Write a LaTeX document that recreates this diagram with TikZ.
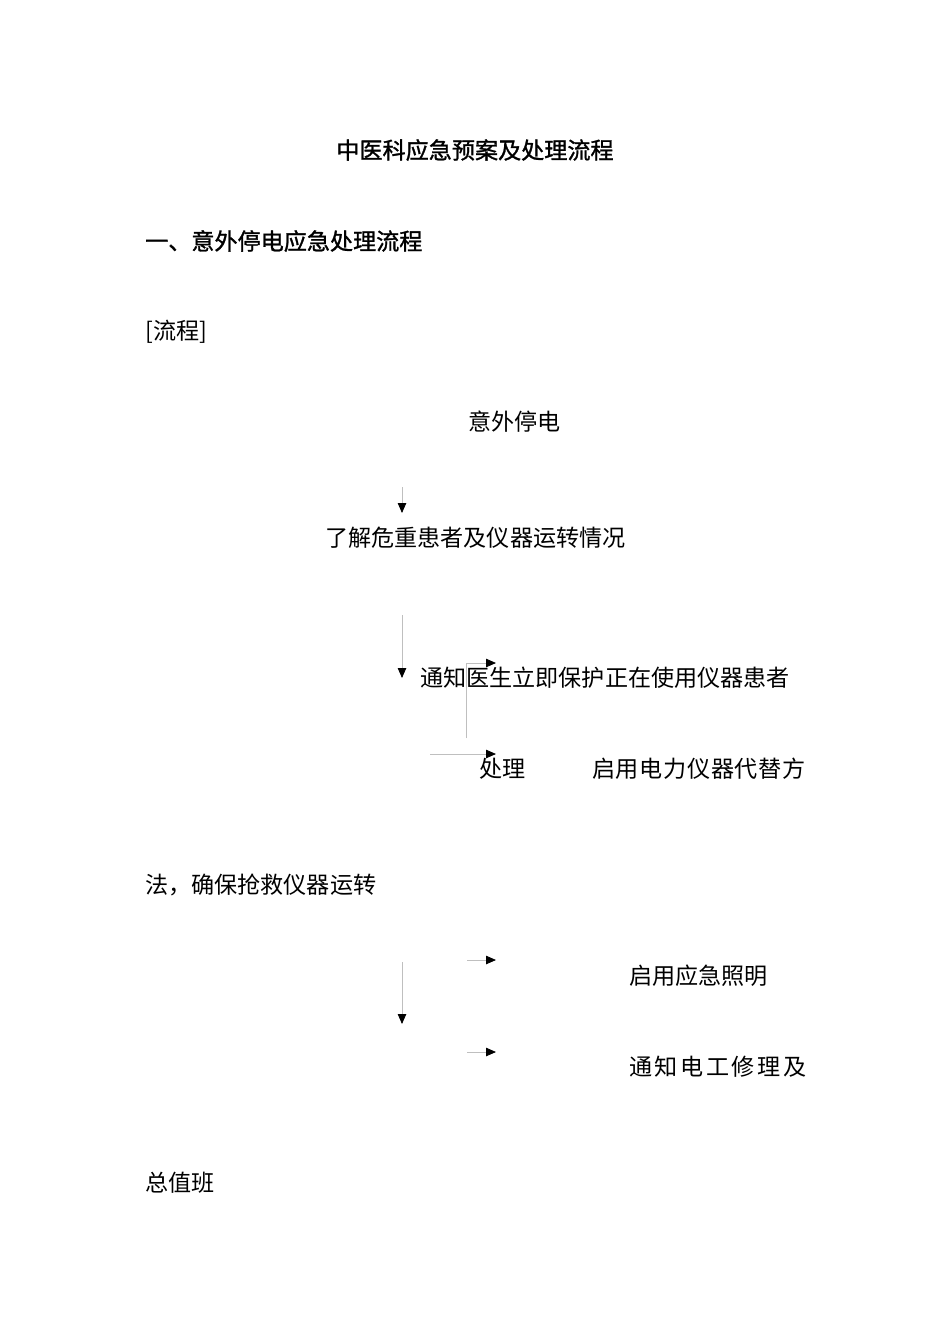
\documentclass[tikz,border=0pt]{standalone}
\usepackage{fontspec}
\setmainfont{Noto Sans CJK SC}
\newfontfamily\cjkbold{Noto Sans CJK SC}[FakeBold=1.2]
\usetikzlibrary{arrows.meta}
\usetikzlibrary{positioning}

\begin{document}
\begin{tikzpicture}[x=1pt,y=-1pt,
  txt/.style={inner sep=0pt,anchor=west,font=\fontsize{23.1}{23}\selectfont},
  ttl/.style={inner sep=0pt,font=\cjkbold\fontsize{23.1}{23}\selectfont},
  flow/.style={draw=black!25,line width=0.8pt,-{Triangle[length=10pt,width=8.5pt,color=black]}}]
  \useasboundingbox[fill=white] (0,0) rectangle (950,1344);
  % headings
  \node[ttl] (title) at (475,150) {中医科应急预案及处理流程};
  \node[ttl,anchor=west] (head) at (145,241) {一、意外停电应急处理流程};
  \node[txt] (tag) at (145,332) {[流程]};
  % flow texts
  \node[txt] (cut) at (468,422) {意外停电};
  \node[txt] (check) at (325,538) {了解危重患者及仪器运转情况};
  \node[txt] (doctor) at (420,678) {通知医生立即保护正在使用仪器患者};
  \node[txt] (deal) at (479,769) {处理};
  \node[txt] (spare) at (592,769) {\addfontfeature{LetterSpace=3}启用电力仪器代替方};
  \node[txt] (spare2) at (145,885) {法，确保抢救仪器运转};
  \node[txt] (light) at (629,976) {启用应急照明};
  \node[txt] (elec) at (629,1067) {\addfontfeature{LetterSpace=11}通知电工修理及};
  \node[txt] (duty) at (145,1183) {总值班};
  % arrow ends
  \coordinate (a1s) at (402,487); \coordinate (a1e) at (402,513);
  \coordinate (a2s) at (402,615); \coordinate (a2e) at (402,678);
  \coordinate (b1) at (466,738); \coordinate (b2) at (466,663);
  \coordinate (b3) at (496,663);
  \coordinate (c1) at (430,754); \coordinate (c2) at (496,754);
  \coordinate (a3s) at (402,962); \coordinate (a3e) at (402,1024);
  \coordinate (d1) at (467,960); \coordinate (d2) at (496,960);
  \coordinate (e1) at (467,1052); \coordinate (e2) at (496,1052);
  % connectors
  \draw[flow] (a1s) -- (a1e);
  \draw[flow] (a2s) -- (a2e);
  \draw[flow] (b1) -- (b2) -- (b3);
  \draw[flow] (c1) -- (c2);
  \draw[flow] (a3s) -- (a3e);
  \draw[flow] (d1) -- (d2);
  \draw[flow] (e1) -- (e2);
\end{tikzpicture}
\end{document}
